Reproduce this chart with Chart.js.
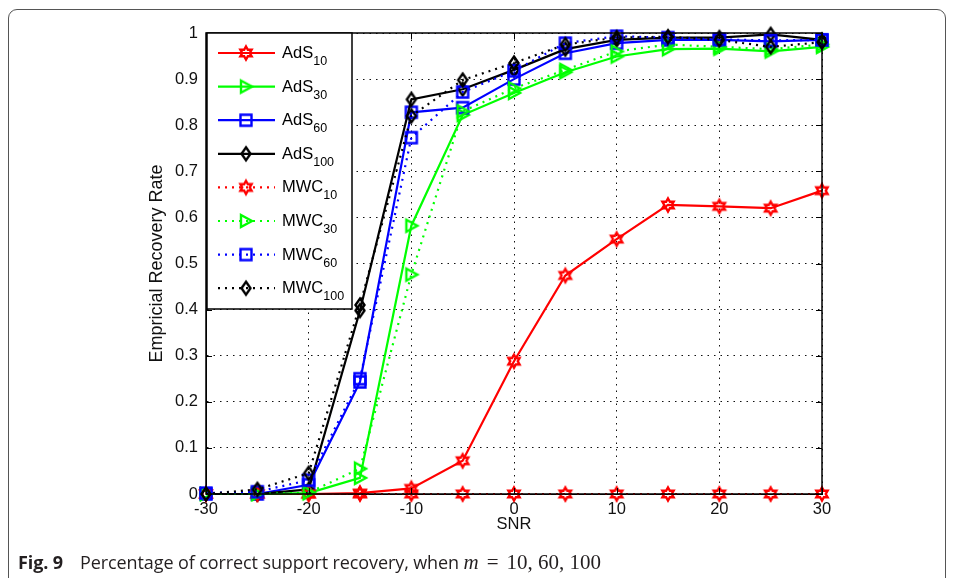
<!DOCTYPE html>
<html>
<head>
<meta charset="utf-8">
<script src="https://cdn.jsdelivr.net/npm/chart.js@4.4.0/dist/chart.umd.min.js"></script>
<style>
html, body { margin: 0; padding: 0; background: #fff; }
#wrap { position: relative; width: 955px; height: 578px; overflow: hidden; }
#frame { position: absolute; left: 8px; top: 9px; width: 936px; height: 640px; border: 1px solid #555; border-radius: 9px; }
#c { position: absolute; left: 0; top: 0; }
#cap { position: absolute; left: 18px; top: 550px; font-family: 'Open Sans', sans-serif; font-size: 18px; color: #231f20; white-space: nowrap; letter-spacing: -0.1px; }
#cap b { font-weight: 700; margin-right: 17px; }
#cap .m { font-family: 'Liberation Serif', serif; font-size: 21px; letter-spacing: 0; }
#cap .eq { margin: 0 8px; }
</style>
</head>
<body>
<div id="wrap">
  <div id="frame"></div>
  <canvas id="c" width="955" height="578"></canvas>
  <div id="cap"><b>Fig. 9</b>Percentage of correct support recovery, when <span class="m"><i>m</i><span class="eq">=</span>10, 60, 100</span></div>
</div>
<script>
const snr = [-30, -25, -20, -15, -10, -5, 0, 5, 10, 15, 20, 25, 30];
const ads10  = [0, 0, 0, 0.002, 0.012, 0.072, 0.288, 0.474, 0.553, 0.627, 0.624, 0.620, 0.658];
const ads30  = [0, 0, 0.002, 0.035, 0.582, 0.822, 0.870, 0.915, 0.949, 0.965, 0.966, 0.960, 0.970];
const ads60  = [0, 0, 0.020, 0.243, 0.828, 0.838, 0.900, 0.956, 0.978, 0.985, 0.985, 0.982, 0.985];
const ads100 = [0, 0, 0.010, 0.398, 0.856, 0.878, 0.920, 0.965, 0.985, 0.990, 0.990, 0.997, 0.985];
const mwc10  = [0, 0, 0, 0, 0, 0, 0, 0, 0, 0, 0, 0, 0];
const mwc30  = [0, 0, 0.003, 0.055, 0.476, 0.830, 0.880, 0.920, 0.960, 0.975, 0.970, 0.965, 0.975];
const mwc60  = [0.002, 0.005, 0.030, 0.250, 0.773, 0.872, 0.918, 0.978, 0.993, 0.990, 0.986, 0.984, 0.985];
const mwc100 = [0, 0.010, 0.045, 0.410, 0.820, 0.898, 0.935, 0.975, 0.990, 0.992, 0.985, 0.970, 0.980];
const xTicks = [-30, -20, -10, 0, 10, 20, 30];

const FONT = "'Liberation Sans', Arial, sans-serif";

// MATLAB-like open markers
function marker(shape, color) {
    const s = 20, c = document.createElement('canvas');
    c.width = s; c.height = s;
    const g = c.getContext('2d');
    g.strokeStyle = color;
    g.lineWidth = 2.4;
    g.translate(s / 2, s / 2);
    g.beginPath();
    if (shape === 'hex') {
        const R = 6.5, r = R / Math.sqrt(3);
        for (let i = 0; i < 12; i++) {
            const a = -Math.PI / 2 + i * Math.PI / 6;
            const rr = i % 2 ? r : R;
            i ? g.lineTo(rr * Math.cos(a), rr * Math.sin(a)) : g.moveTo(rr * Math.cos(a), rr * Math.sin(a));
        }
    } else if (shape === 'tri') {
        g.moveTo(-5, -6); g.lineTo(6, 0); g.lineTo(-5, 6);
    } else if (shape === 'sq') {
        g.rect(-5.5, -5.5, 11, 11);
    } else {
        g.moveTo(0, -6.5); g.lineTo(4.5, 0); g.lineTo(0, 6.5); g.lineTo(-4.5, 0);
    }
    g.closePath();
    g.stroke();
    return c;
}

const SERIES = [
    { name: 'AdS', sub: '10',  data: ads10,  color: '#ff0000', dotted: false, mk: 'hex' },
    { name: 'AdS', sub: '30',  data: ads30,  color: '#00ff00', dotted: false, mk: 'tri' },
    { name: 'AdS', sub: '60',  data: ads60,  color: '#0000ff', dotted: false, mk: 'sq' },
    { name: 'AdS', sub: '100', data: ads100, color: '#000000', dotted: false, mk: 'dia' },
    { name: 'MWC', sub: '10',  data: mwc10,  color: '#ff0000', dotted: true,  mk: 'hex' },
    { name: 'MWC', sub: '30',  data: mwc30,  color: '#00ff00', dotted: true,  mk: 'tri' },
    { name: 'MWC', sub: '60',  data: mwc60,  color: '#0000ff', dotted: true,  mk: 'sq' },
    { name: 'MWC', sub: '100', data: mwc100, color: '#000000', dotted: true,  mk: 'dia' }
];
SERIES.forEach(s => s.img = marker(s.mk, s.color));

const DOT = [2, 5];

const datasets = SERIES.map((s, i) => ({
    label: s.name + s.sub,
    data: snr.map((x, j) => ({ x, y: s.data[j] })),
    borderColor: s.color,
    borderWidth: 2.2,
    borderDash: s.dotted ? DOT : [],
    pointStyle: s.img,
    pointRadius: 6,
    tension: 0,
    clip: false,
    order: SERIES.length - i
}));

// axes box, inward ticks and the legend with subscripts
const frame = {
    id: 'frame',
    afterDraw(chart) {
        const { ctx, chartArea: a, scales: { x, y } } = chart;
        ctx.save();
        ctx.setLineDash([]);
        ctx.strokeStyle = '#000';
        ctx.lineWidth = 1.5;
        ctx.strokeRect(a.left, a.top, a.right - a.left, a.bottom - a.top);
        ctx.lineWidth = 1;
        ctx.beginPath();
        for (let v = 0; v <= 10; v++) {
            const py = Math.round(y.getPixelForValue(v / 10)) + 0.5;
            ctx.moveTo(a.left, py); ctx.lineTo(a.left + 6, py);
            ctx.moveTo(a.right, py); ctx.lineTo(a.right - 6, py);
        }
        xTicks.forEach(v => {
            const px = Math.round(x.getPixelForValue(v)) + 0.5;
            ctx.moveTo(px, a.bottom); ctx.lineTo(px, a.bottom - 6);
            ctx.moveTo(px, a.top); ctx.lineTo(px, a.top + 6);
        });
        ctx.stroke();

        // legend
        const L = a.left + 1, T = a.top, W = 145, H = 276;
        ctx.fillStyle = '#fff';
        ctx.fillRect(L, T, W, H);
        ctx.lineWidth = 1.5;
        ctx.strokeRect(L, T, W, H);
        SERIES.forEach((s, i) => {
            const cy = T + 20 + i * 33.6;
            ctx.strokeStyle = s.color;
            ctx.lineWidth = 2.2;
            ctx.setLineDash(s.dotted ? DOT : []);
            ctx.beginPath();
            ctx.moveTo(L + 11, cy); ctx.lineTo(L + 68, cy);
            ctx.stroke();
            ctx.setLineDash([]);
            ctx.drawImage(s.img, L + 39 - s.img.width / 2, cy - s.img.height / 2);
            ctx.fillStyle = '#000';
            ctx.textBaseline = 'alphabetic';
            ctx.font = '16.5px ' + FONT;
            ctx.fillText(s.name, L + 75, cy + 5);
            const w = ctx.measureText(s.name).width;
            ctx.font = '12.5px ' + FONT;
            ctx.fillText(s.sub, L + 75 + w, cy + 12);
        });
        ctx.restore();
    }
};

new Chart(document.getElementById('c'), {
    type: 'line',
    data: { datasets },
    options: {
        responsive: false,
        animation: false,
        layout: { padding: { left: 146, top: 33, right: 133, bottom: 42 } },
        plugins: { legend: { display: false }, tooltip: { enabled: false } },
        scales: {
            x: {
                type: 'linear',
                min: -30, max: 30,
                afterFit: s => { s.height = 42; },
                afterBuildTicks: s => { s.ticks = xTicks.map(v => ({ value: v })); },
                grid: { color: '#111', lineWidth: 1, drawTicks: false },
                border: { dash: [1.5, 5], color: '#000', width: 1 },
                ticks: { color: '#111', padding: 6, font: { family: FONT, size: 16.5 } },
                title: { display: true, text: 'SNR', color: '#111', padding: { top: 0, bottom: 2 }, font: { family: FONT, size: 16.5 } }
            },
            y: {
                min: 0, max: 1,
                afterFit: s => { s.width = 60; },
                grid: { color: '#111', lineWidth: 1, drawTicks: false },
                border: { dash: [1.5, 5], color: '#000', width: 1 },
                ticks: { stepSize: 0.1, color: '#111', padding: 8, font: { family: FONT, size: 16.5 }, callback: v => String(+v.toFixed(1)) },
                title: { display: true, text: 'Empricial Recovery Rate', color: '#111', padding: 0, font: { family: FONT, size: 18 } }
            }
        }
    },
    plugins: [frame]
});
</script>
</body>
</html>
